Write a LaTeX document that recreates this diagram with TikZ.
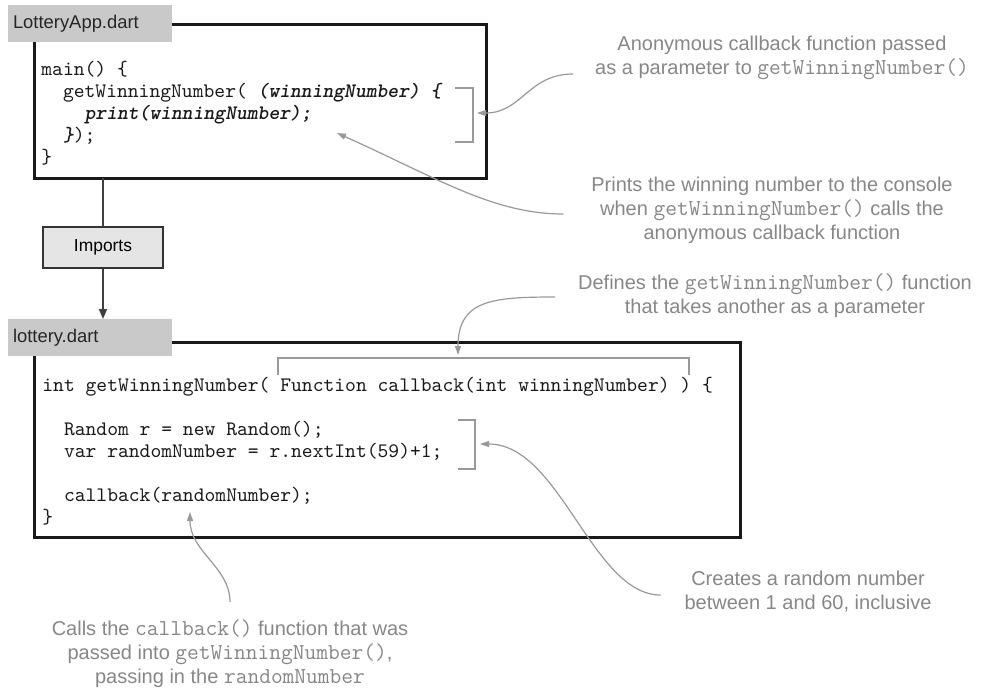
\documentclass[tikz,border=0pt]{standalone}
\usepackage{fontspec}
\setmainfont{Liberation Sans}
\usetikzlibrary{arrows.meta,calc,positioning}
\newcommand{\codeind}[1]{\hspace*{#1\dimexpr0.525em\relax}}
\newcommand{\bi}[1]{\textbf{\textit{#1}}}
\newcommand{\ntt}[1]{{\ttfamily\fontsize{11.4}{12}\selectfont #1}}

\begin{document}
\begin{tikzpicture}[x=0.5pt,y=-0.5pt,
  filebox/.style={draw=black!90,line width=1.5pt,outer sep=0pt,inner sep=0pt,anchor=north west},
  filetab/.style={fill=black!21,text=black!85,anchor=north west,outer sep=0pt,inner xsep=2.5pt,minimum height=18.5pt,text width=77pt,align=left,font=\fontsize{9.2}{11}\selectfont},
  code/.style={anchor=north west,inner sep=0pt,align=left,text=black!90,font=\ttfamily\fontsize{10.3}{11}\selectfont},
  notetext/.style={align=center,text=black!47,font=\fontsize{10}{12}\selectfont},
  brace/.style={draw=black!40,line width=0.6pt},
  notearrow/.style={draw=black!40,line width=0.6pt,-{Triangle[length=4.5pt,width=3pt]}},
  link/.style={draw=black!75,line width=0.75pt}]
  \useasboundingbox (0,0) rectangle (990,692);

  % LotteryApp.dart
  \node[filebox,minimum width=226pt,minimum height=77pt] (appbox) at (34,24) {};
  \node[filetab] (apptab) at (8,5) {LotteryApp.dart};
  \node[code] (appcode) at (41,61) {main() \{\\
    \codeind{2}getWinningNumber( \bi{(winningNumber) \{}\\
    \codeind{4}\bi{print(winningNumber);}\\
    \codeind{2}\bi{\}});\\
    \}};

  \node[draw=black!80,fill=black!10,line width=0.6pt,minimum width=60pt,minimum height=20.5pt,font=\fontsize{8.7}{10}\selectfont] (imports) at (103,247.5) {Imports};

  % lottery.dart
  \node[filebox,minimum width=353pt,minimum height=97.5pt] (libbox) at (34,342) {};
  \node[filetab] (libtab) at (8,319) {lottery.dart};
  \node[code] (libcode) at (42,377) {int getWinningNumber( Function callback(int winningNumber) ) \{\\
    \mbox{}\\
    \codeind{2}Random r = new Random();\\
    \codeind{2}var randomNumber = r.nextInt(59)+1;\\
    \mbox{}\\
    \codeind{2}callback(randomNumber);\\
    \}};

  \draw[link] (appbox.south -| imports) -- (imports);
  \draw[link,-{Triangle[length=5pt,width=4pt]}] (imports) -- (imports |- libtab.north);

  % brackets
  \draw[brace] (455,88) -- (473,88) -- (473,142) -- (455,142);
  \draw[brace] (278,375) -- (278,358) -- (689,358) -- (689,375);
  \draw[brace] (458,420) -- (475,420) -- (475,469) -- (458,469);
  \coordinate (anonbr) at (477,113);
  \coordinate (printend) at (337,133);
  \coordinate (defbr) at (458,355);
  \coordinate (randbr) at (480,444);
  \coordinate (cbarg) at (190,512);

  % notes
  \node[notetext] (anon) at (782,58) {Anonymous callback function passed\\as a parameter to \ntt{getWinningNumber()}};
  \node[notetext] (prints) at (772,210) {Prints the winning number to the console\\when \ntt{getWinningNumber()} calls the\\anonymous callback function};
  \node[notetext] (defines) at (775,296) {Defines the \ntt{getWinningNumber()} function\\that takes another as a parameter};
  \node[notetext] (creates) at (808,592) {Creates a random number\\between 1 and 60, inclusive};
  \node[notetext] (calls) at (230,654) {Calls the \ntt{callback()} function that was\\passed into \ntt{getWinningNumber()},\\passing in the \ntt{randomNumber}};

  \draw[notearrow] ($(anon.west)+(-15,16)$) .. controls +(-45,0) and +(45,0) .. (anonbr);
  \draw[notearrow] ($(prints.west)+(-21,4)$) .. controls +(-70,0) and +(100,45) .. (printend);
  \draw[notearrow] ($(defines.west)+(-16,1)$) .. controls +(-63,0) and +(0,-55) .. (defbr);
  \draw[notearrow] ($(creates.west)+(-17,3)$) .. controls +(-68,0) and +(80,0) .. (randbr);
  \draw[notearrow] ($(calls.north)+(0,-11)$) .. controls +(0,-35) and +(0,40) .. (cbarg);
\end{tikzpicture}
\end{document}
